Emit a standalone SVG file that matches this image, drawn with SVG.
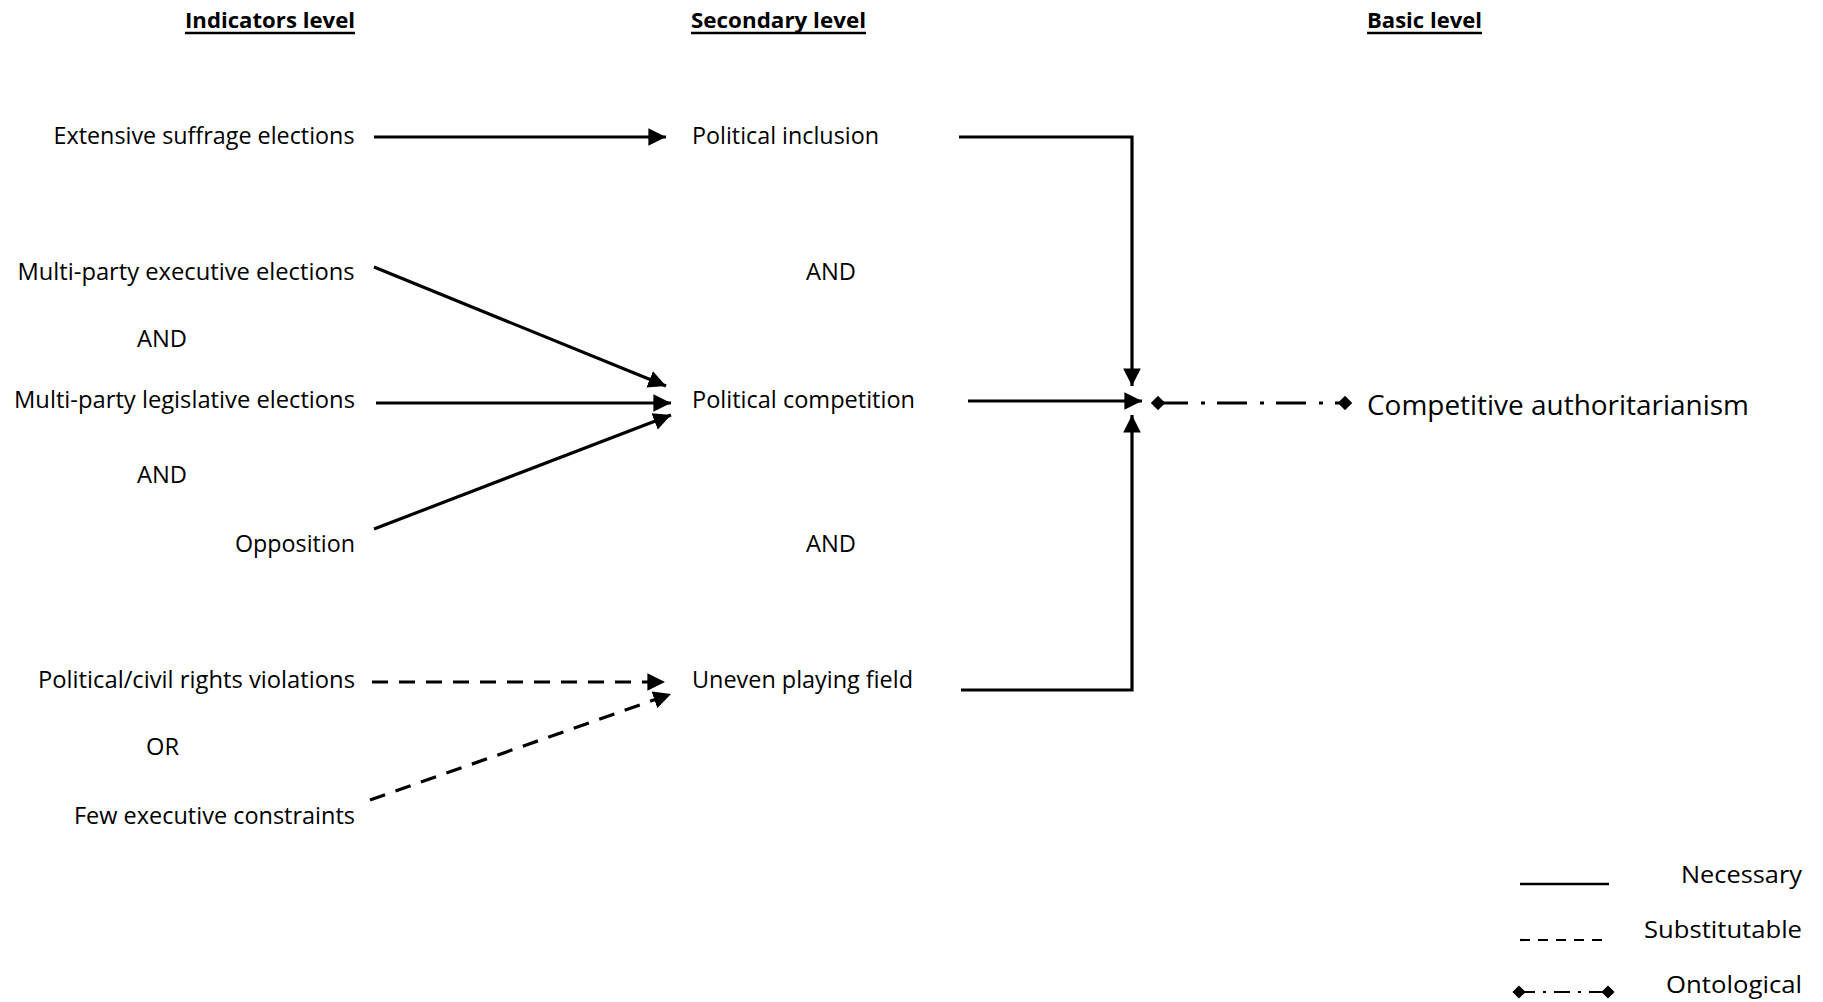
<svg xmlns="http://www.w3.org/2000/svg" width="1823" height="1002" viewBox="0 0 1823 1002">
  <style>
    text { font-family: "Open Sans", "Liberation Sans", sans-serif; fill: #000; }
    .lbl { font-size: 23px; }
    .hdr { font-size: 21px; font-weight: bold; }
    .big { font-size: 28px; }
    .solid { stroke: #000; stroke-width: 3.2; fill: none; }
    .dash { stroke: #000; stroke-width: 3.2; fill: none; stroke-dasharray: 16 11; }
    .onto { stroke: #000; stroke-width: 3.2; fill: none; stroke-dasharray: 30 13 4 12; }
    .ul { stroke: #000; stroke-width: 2.5; }
  </style>
  <defs>
    <marker id="arrow" viewBox="0 0 10 10" refX="10" refY="5" markerWidth="5.5" markerHeight="5.5" orient="auto" markerUnits="strokeWidth">
      <path d="M0,0 L10,5 L0,10 Z" fill="#000"/>
    </marker>
    <marker id="diamond" viewBox="0 0 10 10" refX="5" refY="5" markerWidth="4.5" markerHeight="4.5" orient="auto" markerUnits="strokeWidth">
      <path d="M0,5 L5,0 L10,5 L5,10 Z" fill="#000"/>
    </marker>
    <marker id="diamond-lg" viewBox="0 0 10 10" refX="5" refY="5" markerWidth="6" markerHeight="6" orient="auto" markerUnits="strokeWidth">
      <path d="M0,5 L5,0 L10,5 L5,10 Z" fill="#000"/>
    </marker>
  </defs>

  <rect width="1823" height="1002" fill="#fff"/>

  <!-- column headers -->
  <g id="headers">
    <text class="hdr" x="185" y="28" textLength="170" lengthAdjust="spacingAndGlyphs">Indicators level</text>
    <line class="ul" x1="185" y1="33" x2="355" y2="33"/>
    <text class="hdr" x="691" y="28" textLength="175" lengthAdjust="spacingAndGlyphs">Secondary level</text>
    <line class="ul" x1="691" y1="33" x2="866" y2="33"/>
    <text class="hdr" x="1367" y="28" textLength="115" lengthAdjust="spacingAndGlyphs">Basic level</text>
    <line class="ul" x1="1367" y1="33" x2="1482" y2="33"/>
  </g>

  <!-- indicators -->
  <g id="ind-suffrage"><text class="lbl" x="53.5" y="144" textLength="301" lengthAdjust="spacingAndGlyphs">Extensive suffrage elections</text></g>
  <g id="ind-exec"><text class="lbl" x="17.5" y="280" textLength="337" lengthAdjust="spacingAndGlyphs">Multi-party executive elections</text></g>
  <g id="and-1"><text class="lbl" x="137" y="347" textLength="50" lengthAdjust="spacingAndGlyphs">AND</text></g>
  <g id="ind-leg"><text class="lbl" x="14" y="408" textLength="341" lengthAdjust="spacingAndGlyphs">Multi-party legislative elections</text></g>
  <g id="and-2"><text class="lbl" x="137" y="483" textLength="50" lengthAdjust="spacingAndGlyphs">AND</text></g>
  <g id="ind-opposition"><text class="lbl" x="235" y="552" textLength="120" lengthAdjust="spacingAndGlyphs">Opposition</text></g>
  <g id="ind-rights"><text class="lbl" x="38" y="688" textLength="317" lengthAdjust="spacingAndGlyphs">Political/civil rights violations</text></g>
  <g id="or-1"><text class="lbl" x="146" y="755" textLength="33" lengthAdjust="spacingAndGlyphs">OR</text></g>
  <g id="ind-constraints"><text class="lbl" x="74" y="824" textLength="281" lengthAdjust="spacingAndGlyphs">Few executive constraints</text></g>

  <!-- secondary level -->
  <g id="sec-inclusion"><text class="lbl" x="692" y="144" textLength="187" lengthAdjust="spacingAndGlyphs">Political inclusion</text></g>
  <g id="and-3"><text class="lbl" x="806" y="280" textLength="50" lengthAdjust="spacingAndGlyphs">AND</text></g>
  <g id="sec-competition"><text class="lbl" x="692" y="408" textLength="223" lengthAdjust="spacingAndGlyphs">Political competition</text></g>
  <g id="and-4"><text class="lbl" x="806" y="552" textLength="50" lengthAdjust="spacingAndGlyphs">AND</text></g>
  <g id="sec-field"><text class="lbl" x="692" y="688" textLength="221" lengthAdjust="spacingAndGlyphs">Uneven playing field</text></g>

  <!-- basic level -->
  <g id="basic"><text class="big" x="1367" y="415" textLength="382" lengthAdjust="spacingAndGlyphs">Competitive authoritarianism</text></g>

  <!-- connectors -->
  <g id="connectors">
    <line class="solid" x1="374" y1="137" x2="666" y2="137" marker-end="url(#arrow)"/>
    <line class="solid" x1="374" y1="267" x2="666" y2="386" marker-end="url(#arrow)"/>
    <line class="solid" x1="376" y1="403" x2="671" y2="403" marker-end="url(#arrow)"/>
    <line class="solid" x1="374" y1="529" x2="671" y2="415" marker-end="url(#arrow)"/>
    <line class="dash" x1="372" y1="682" x2="665" y2="682" marker-end="url(#arrow)"/>
    <line class="dash" x1="370" y1="800" x2="671" y2="694" marker-end="url(#arrow)"/>

    <polyline class="solid" points="959,137 1132,137 1132,386" marker-end="url(#arrow)"/>
    <line class="solid" x1="968" y1="401" x2="1142" y2="401" marker-end="url(#arrow)"/>
    <polyline class="solid" points="961,690 1132,690 1132,415" marker-end="url(#arrow)"/>

    <line class="onto" x1="1158" y1="403" x2="1345" y2="403" marker-start="url(#diamond)" marker-end="url(#diamond)"/>
  </g>

  <!-- legend -->
  <g id="legend">
    <line class="solid" x1="1520" y1="884" x2="1609" y2="884" style="stroke-width:2.5"/>
    <text class="lbl" x="1681" y="883" textLength="121" lengthAdjust="spacingAndGlyphs">Necessary</text>
    <line class="dash" x1="1520" y1="940" x2="1604" y2="940" style="stroke-width:2.2; stroke-dasharray: 10 8"/>
    <text class="lbl" x="1644" y="938" textLength="158" lengthAdjust="spacingAndGlyphs">Substitutable</text>
    <line class="onto" x1="1519" y1="992" x2="1608" y2="992" style="stroke-width:2.2; stroke-dasharray: 16 8 3 8" marker-start="url(#diamond-lg)" marker-end="url(#diamond-lg)"/>
    <text class="lbl" x="1666" y="993" textLength="136" lengthAdjust="spacingAndGlyphs">Ontological</text>
  </g>
</svg>
